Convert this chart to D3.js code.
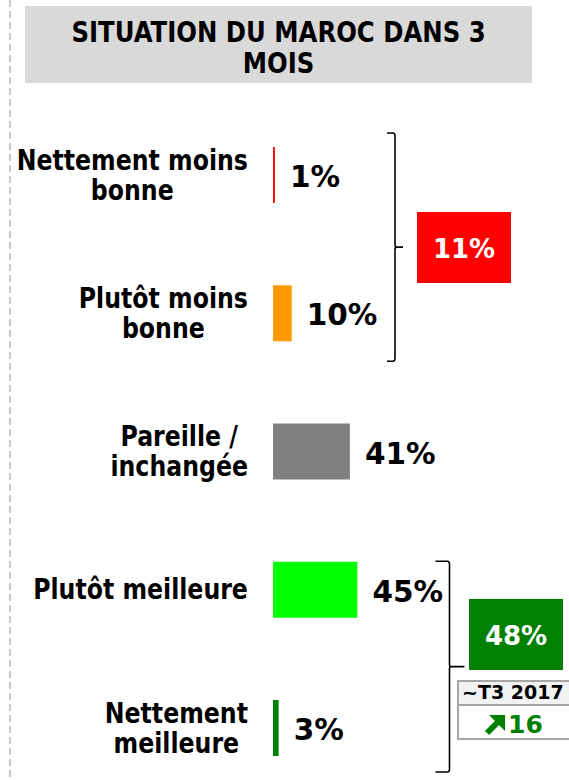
<!DOCTYPE html>
<html>
<head>
<meta charset="utf-8">
<script src="https://cdn.jsdelivr.net/npm/d3@7"></script>
<style>
  body { margin: 0; background: #fff; }
  text { font-family: "DejaVu Sans", Verdana, sans-serif; font-weight: bold; }
</style>
</head>
<body>
<script>
// Data
const categories = [
  ["Nettement moins", "bonne"],
  ["Plutôt moins", "bonne"],
  ["Pareille /", "inchangée"],
  ["Plutôt meilleure"],
  ["Nettement", "meilleure"]
];
const values = [1, 10, 41, 45, 3];
const colors = ["#ff0000", "#ff9900", "#808080", "#00ff00", "#008000"];
const groupTotals = [11, 48];
const groupFirst = [0, 3];
const groupLast = [1, 4];
const groupColors = ["#ff0000", "#008000"];
const titleLines = ["SITUATION DU MAROC DANS 3", "MOIS"];
const trendLabel = "~T3 2017";
const trendValue = 16;

const width = 569, height = 780;
const condense = 0.86; // the source font is narrower than DejaVu

const svg = d3.select("body").append("svg")
  .attr("width", width)
  .attr("height", height);

// dashed separator on the left
svg.append("line")
  .attr("x1", 10).attr("x2", 10)
  .attr("y1", 0).attr("y2", height)
  .attr("stroke", "#c8c8c8")
  .attr("stroke-width", 2)
  .attr("stroke-dasharray", "7,4");

// title box
svg.append("rect")
  .attr("x", 25).attr("y", 6)
  .attr("width", 507).attr("height", 77)
  .attr("fill", "#d9d9d9");

svg.append("g")
  .attr("transform", `translate(278.5,0) scale(0.87,1)`)
  .selectAll("text")
  .data(titleLines)
  .enter().append("text")
  .attr("x", 0)
  .attr("y", (d, i) => 42 + i * 31)
  .attr("text-anchor", "middle")
  .style("font-size", "28px")
  .text(d => d);

// scales
const y = d3.scaleBand()
  .domain(d3.range(values.length))
  .range([147, 756])
  .paddingInner(0.595);

const x = d3.scaleLinear()
  .domain([0, 100])
  .range([273, 460.5]);

// bars
svg.selectAll("rect.bar")
  .data(values)
  .enter().append("rect")
  .attr("class", "bar")
  .attr("x", x(0))
  .attr("y", (d, i) => y(i))
  .attr("width", d => x(d) - x(0))
  .attr("height", y.bandwidth())
  .attr("fill", (d, i) => colors[i]);

// value labels
svg.selectAll("text.val")
  .data(values)
  .enter().append("text")
  .attr("class", "val")
  .attr("x", d => x(d) + 15)
  .attr("y", (d, i) => y(i) + y.bandwidth() / 2 + 12)
  .style("font-size", "29.5px")
  .text(d => d + "%");

// category labels: block right aligned at 248, lines centred within block
const labelRight = 248;
categories.forEach((lines, i) => {
  const cy = y(i) + y.bandwidth() / 2;
  const g = svg.append("g");
  const t = g.selectAll("text")
    .data(lines)
    .enter().append("text")
    .attr("x", 0)
    .attr("y", (d, j) => lines.length === 1 ? cy + 9 : cy - 5 + j * 30)
    .attr("text-anchor", "middle")
    .style("font-size", "27.5px")
    .text(d => d);
  let maxW = 0;
  t.each(function() { maxW = Math.max(maxW, this.getComputedTextLength()); });
  const cx = labelRight - maxW * condense / 2;
  g.attr("transform", `translate(${cx},0) scale(${condense},1)`);
});

// brackets
function bracket(xv, y0, y1, arm, nub) {
  const ym = (y0 + y1) / 2;
  return `M${xv - arm},${y0} L${xv - 2},${y0} Q${xv},${y0} ${xv},${y0 + 3}` +
    ` L${xv},${ym - 2} Q${xv},${ym} ${xv + 2},${ym} L${xv + nub},${ym}` +
    ` M${xv + 2},${ym} Q${xv},${ym} ${xv},${ym + 2}` +
    ` L${xv},${y1 - 3} Q${xv},${y1} ${xv - 2},${y1} L${xv - arm},${y1}`;
}

const bracketX = [395, 449.5];
const bracketArm = [8, 14];
const bracketNub = [8, 15];
const bracketTop = [y(groupFirst[0]) - 14, y(groupFirst[1]) - 0.5];
const bracketBottom = [y(groupLast[0]) + y.bandwidth() + 20, y(groupLast[1]) + y.bandwidth() + 16];

groupTotals.forEach((v, g) => {
  svg.append("path")
    .attr("d", bracket(bracketX[g], bracketTop[g], bracketBottom[g], bracketArm[g], bracketNub[g]))
    .attr("fill", "none")
    .attr("stroke", "#000")
    .attr("stroke-width", 1.6);
});

// total boxes
const boxX = [417, 469];
const boxY = [212, 599];
const boxW = 94, boxH = 71;
groupTotals.forEach((v, g) => {
  svg.append("rect")
    .attr("x", boxX[g]).attr("y", boxY[g])
    .attr("width", boxW).attr("height", boxH)
    .attr("fill", groupColors[g]);
  svg.append("text")
    .attr("x", boxX[g] + boxW / 2)
    .attr("y", boxY[g] + boxH / 2 + 10)
    .attr("text-anchor", "middle")
    .attr("fill", "#fff")
    .style("font-size", "26px")
    .text(v + "%");
});

// trend box
const tb = svg.append("g");
tb.append("rect")
  .attr("x", 458).attr("y", 681)
  .attr("width", 115).attr("height", 24)
  .attr("fill", "#f2f2f2")
  .attr("stroke", "#a6a6a6").attr("stroke-width", 2);
tb.append("rect")
  .attr("x", 458).attr("y", 705)
  .attr("width", 115).attr("height", 34)
  .attr("fill", "#fff")
  .attr("stroke", "#a6a6a6").attr("stroke-width", 2);
tb.append("text")
  .attr("x", 462).attr("y", 699)
  .style("font-size", "19px")
  .text(trendLabel);

// up-right arrow
tb.append("line")
  .attr("x1", 487).attr("y1", 733)
  .attr("x2", 498).attr("y2", 722)
  .attr("stroke", "#008000")
  .attr("stroke-width", 6);
tb.append("path")
  .attr("d", "M505,715 L505,731 L489,715 Z")
  .attr("fill", "#008000");
tb.append("text")
  .attr("x", 508).attr("y", 733)
  .attr("fill", "#008000")
  .style("font-size", "25px")
  .text(trendValue);
</script>
</body>
</html>
